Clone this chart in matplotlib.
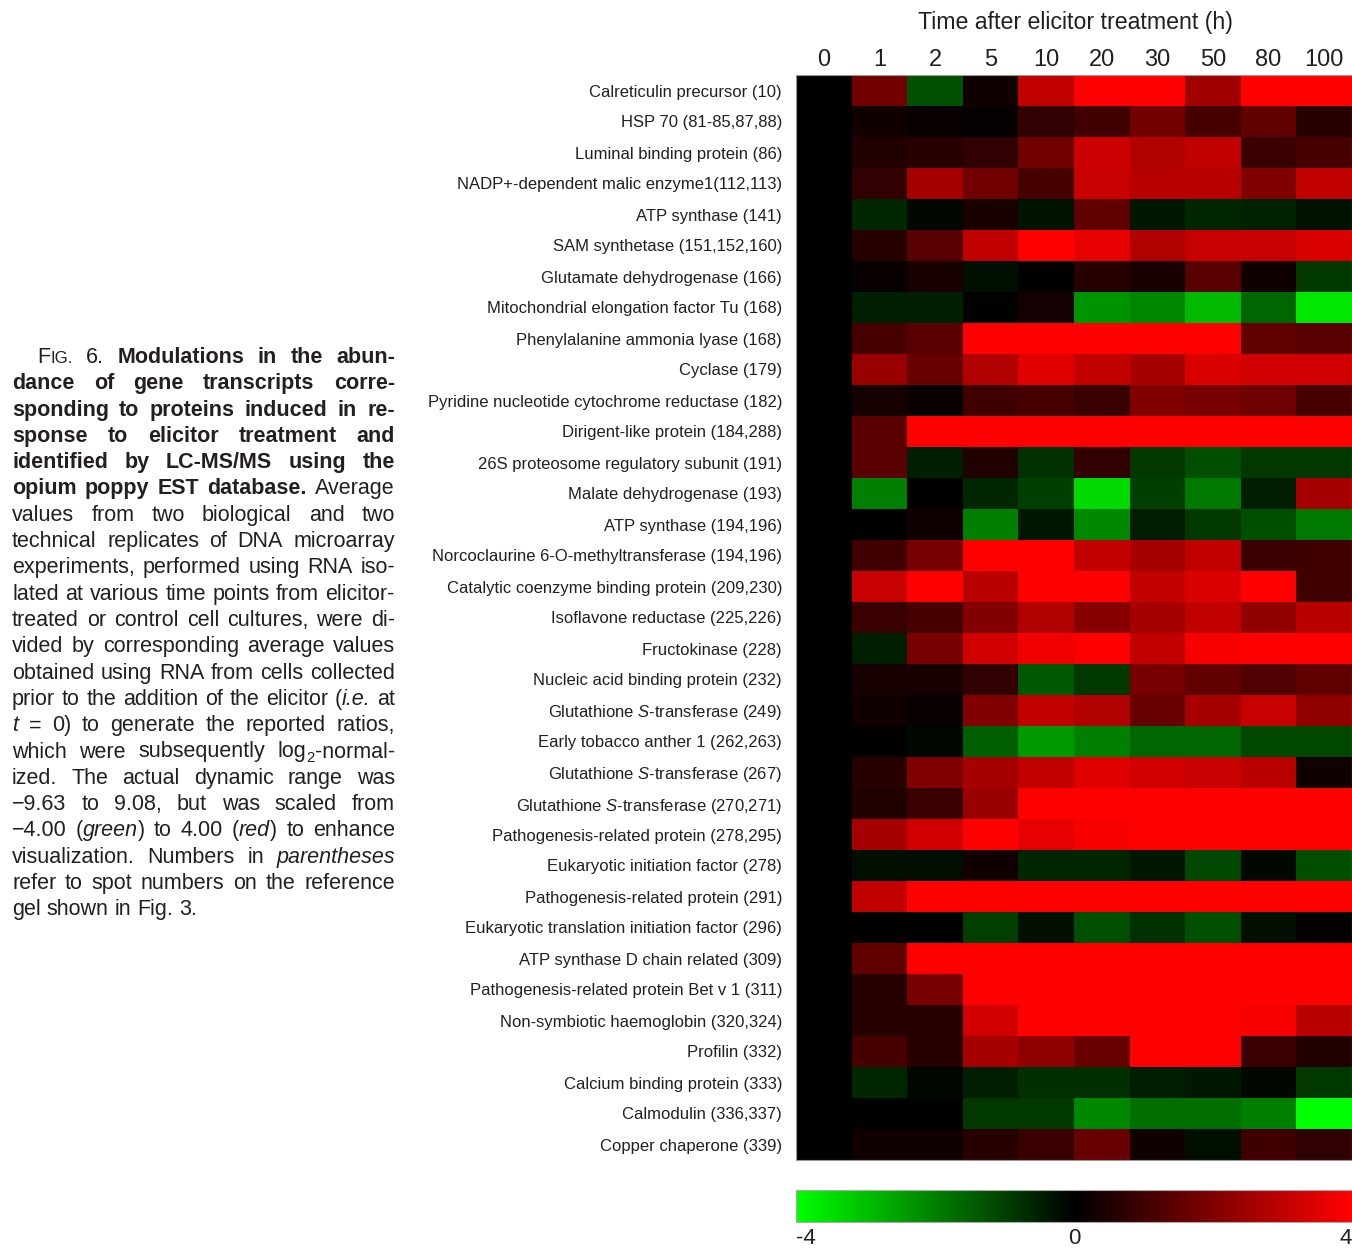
import numpy as np
import matplotlib
matplotlib.use("Agg")
import matplotlib.pyplot as plt
from matplotlib.colors import LinearSegmentedColormap

plt.rcParams['font.family'] = ['Liberation Sans', 'DejaVu Sans']
plt.rcParams['mathtext.fontset'] = 'custom'
plt.rcParams['mathtext.rm'] = 'Liberation Sans'
plt.rcParams['mathtext.it'] = 'Liberation Sans:italic'

# ---- data (log2 ratios, clipped to [-4, 4]) ----
time_points = ['0', '1', '2', '5', '10', '20', '30', '50', '80', '100']

genes = [
    'Calreticulin precursor (10)',
    'HSP 70 (81-85,87,88)',
    'Luminal binding protein (86)',
    'NADP+-dependent malic enzyme1(112,113)',
    'ATP synthase (141)',
    'SAM synthetase (151,152,160)',
    'Glutamate dehydrogenase (166)',
    'Mitochondrial elongation factor Tu (168)',
    'Phenylalanine ammonia lyase (168)',
    'Cyclase (179)',
    'Pyridine nucleotide cytochrome reductase (182)',
    'Dirigent-like protein (184,288)',
    '26S proteosome regulatory subunit (191)',
    'Malate dehydrogenase (193)',
    'ATP synthase (194,196)',
    'Norcoclaurine 6-O-methyltransferase (194,196)',
    'Catalytic coenzyme binding protein (209,230)',
    'Isoflavone reductase (225,226)',
    'Fructokinase (228)',
    'Nucleic acid binding protein (232)',
    r'Glutathione $\mathit{S}$-transferase (249)',
    'Early tobacco anther 1 (262,263)',
    r'Glutathione $\mathit{S}$-transferase (267)',
    r'Glutathione $\mathit{S}$-transferase (270,271)',
    'Pathogenesis-related protein (278,295)',
    'Eukaryotic initiation factor (278)',
    'Pathogenesis-related protein (291)',
    'Eukaryotic translation initiation factor (296)',
    'ATP synthase D chain related (309)',
    'Pathogenesis-related protein Bet v 1 (311)',
    'Non-symbiotic haemoglobin (320,324)',
    'Profilin (332)',
    'Calcium binding protein (333)',
    'Calmodulin (336,337)',
    'Copper chaperone (339)',
]

fc_0h = [0] * 35
fc_1h = [1.8, 0.25, 0.5, 0.75, -0.6, 0.6, 0.15, -0.5, 1.1, 2.4, 0.35, 1.4, 1.4, -2.0, 0, 1.0, 3.1, 0.9,
         -0.5, 0.35, 0.25, 0.05, 0.6, 0.5, 2.6, -0.25, 3.0, 0.05, 1.5, 0.6, 0.6, 1.1, -0.6, -0.05, 0.25]
fc_2h = [-1.3, 0.15, 0.6, 2.6, -0.15, 1.4, 0.35, -0.5, 1.4, 1.6, 0.15, 4, -0.5, 0.05, 0.25, 1.9, 4, 1.1,
         1.9, 0.35, 0.15, -0.15, 2.0, 0.9, 3.25, -0.2, 4, 0, 4, 1.9, 0.6, 0.6, -0.1, -0.05, 0.25]
fc_5h = [0.25, 0.1, 0.75, 1.75, 0.4, 3.0, -0.25, -0.05, 4, 2.75, 1.0, 4, 0.5, -0.6, -2.0, 4, 2.9, 2.0,
         3.25, 0.75, 2.0, -1.5, 2.6, 2.4, 4, 0.25, 4, -1.0, 4, 4, 3.25, 2.6, -0.5, -0.9, 0.6]
fc_10h = [3.0, 0.75, 1.75, 1.1, -0.3, 4, 0.05, 0.3, 4, 3.5, 1.1, 4, -0.75, -1.0, -0.4, 4, 4, 2.75,
          3.75, -1.4, 3.0, -2.4, 3.0, 4, 3.6, -0.6, 4, -0.25, 4, 4, 4, 2.25, -0.75, -0.9, 0.9]
fc_20h = [4, 1.0, 3.2, 3.1, 1.5, 3.6, 0.6, -2.3, 4, 3.0, 0.9, 4, 0.75, -3.4, -2.1, 3.0, 4, 2.1,
          4, -0.9, 2.75, -2.0, 3.5, 4, 3.9, -0.6, 4, -1.25, 4, 4, 4, 1.6, -0.75, -2.1, 1.6]
fc_30h = [4, 1.75, 2.75, 2.9, -0.4, 2.75, 0.4, -2.1, 4, 2.6, 2.0, 4, -0.9, -1.0, -0.45, 2.6, 3.0, 2.6,
          3.0, 1.9, 1.6, -1.6, 3.25, 4, 4, -0.4, 4, -0.75, 4, 4, 4, 4, -0.5, -1.75, 0.25]
fc_50h = [2.5, 1.1, 3.0, 2.9, -0.6, 3.1, 1.4, -2.9, 4, 3.4, 1.9, 4, -1.25, -1.9, -0.9, 3.0, 3.4, 3.0,
          3.9, 1.5, 2.6, -1.6, 3.1, 4, 4, -1.1, 4, -1.25, 4, 4, 4, 4, -0.4, -1.75, -0.25]
fc_80h = [4, 1.5, 0.9, 2.0, -0.55, 3.1, 0.25, -1.6, 1.5, 3.25, 1.7, 4, -0.9, -0.5, -1.25, 0.9, 4, 2.25,
          4, 1.25, 3.1, -1.1, 2.9, 4, 4, -0.15, 4, -0.25, 4, 4, 3.9, 0.9, -0.15, -2.0, 1.0]
fc_100h = [4, 0.6, 1.1, 3.0, -0.3, 3.4, -0.9, -3.6, 1.4, 3.25, 1.1, 4, -0.9, 2.6, -1.9, 1.0, 1.0, 2.9,
           4, 1.5, 2.25, -1.1, 0.25, 4, 4, -1.25, 4, 0.1, 4, 4, 2.9, 0.5, -0.9, -4, 0.75]

data = np.array([fc_0h, fc_1h, fc_2h, fc_5h, fc_10h, fc_20h, fc_30h, fc_50h, fc_80h, fc_100h]).T

# caption: each line = (default style, words); a word is a str or a list of (text, style)
caption_lines = [
    ('b', [[('F', 'n'), ('IG.', 'sc')], [('6.', 'n')], 'Modulations', 'in', 'the', 'abun-']),
    ('b', 'dance of gene transcripts corre-'.split()),
    ('b', 'sponding to proteins induced in re-'.split()),
    ('b', 'sponse to elicitor treatment and'.split()),
    ('b', 'identified by LC-MS/MS using the'.split()),
    ('b', 'opium poppy EST database.'.split() + [[('Average', 'n')]]),
    ('n', 'values from two biological and two'.split()),
    ('n', 'technical replicates of DNA microarray'.split()),
    ('n', 'experiments, performed using RNA iso-'.split()),
    ('n', 'lated at various time points from elicitor-'.split()),
    ('n', 'treated or control cell cultures, were di-'.split()),
    ('n', 'vided by corresponding average values'.split()),
    ('n', 'obtained using RNA from cells collected'.split()),
    ('n', 'prior to the addition of the elicitor'.split() + [[('(', 'n'), ('i.e.', 'i')], 'at']),
    ('n', [[('t', 'i')]] + '= 0) to generate the reported ratios,'.split()),
    ('n', 'which were subsequently'.split() + [[('log', 'n'), ('2', 'sub'), ('-normal-', 'n')]]),
    ('n', 'ized. The actual dynamic range was'.split()),
    ('n', '\u22129.63 to 9.08, but was scaled from'.split()),
    ('n', ['\u22124.00', [('(', 'n'), ('green', 'i'), (')', 'n')], 'to', '4.00',
           [('(', 'n'), ('red', 'i'), (')', 'n')], 'to', 'enhance']),
    ('n', ['visualization.', 'Numbers', 'in', [('parentheses', 'i')]]),
    ('n', 'refer to spot numbers on the reference'.split()),
    ('n', 'gel shown in Fig. 3.'.split()),
]

# ---- figure ----
W, H = 1352, 1253
fig = plt.figure(figsize=(W / 100, H / 100), dpi=100)
txt_color = '#231f20'

cmap = LinearSegmentedColormap.from_list('gbr', ['#00ff00', '#000000', '#ff0000'])

hm_left, hm_right, hm_top, hm_bottom = 796, 1352, 75, 1160
ax = fig.add_axes([hm_left / W, 1 - hm_bottom / H, (hm_right - hm_left) / W, (hm_bottom - hm_top) / H])
im = ax.imshow(data, cmap=cmap, vmin=-4, vmax=4, aspect='auto', interpolation='nearest')
ax.xaxis.tick_top()
ax.set_xticks(range(len(time_points)), time_points)
ax.set_yticks(range(len(genes)), genes)
ax.tick_params(axis='x', length=0, pad=3, labelsize=17, labelcolor=txt_color)
ax.tick_params(axis='y', length=0, pad=10, labelsize=12, labelcolor=txt_color)
for s in ax.spines.values():
    s.set_color('#999999')
    s.set_linewidth(0.8)

fig.text(1075 / W, 1 - 22 / H, 'Time after elicitor treatment (h)', ha='center', va='center',
         fontsize=16.7, color=txt_color)

# colour scale
cax = fig.add_axes([796 / W, 1 - 1222 / H, 556 / W, 32 / H])
cb = fig.colorbar(im, cax=cax, orientation='horizontal', ticks=[-4, 0, 4])
cb.ax.set_xticklabels(['-4', '0', '4'])
cb.ax.tick_params(length=0, pad=4, labelsize=16, labelcolor=txt_color)
cb.outline.set_edgecolor('#aaaaaa')
cb.outline.set_linewidth(0.8)
tl = cb.ax.get_xticklabels()
tl[0].set_ha('left')
tl[-1].set_ha('right')

# ---- justified caption ----
cap_fs = 15.5
cap_left, cap_right = 12, 395
first_indent = 37
base0, line_gap = 363, 26.3


def seg_style(style):
    kw = dict(fontsize=cap_fs, color=txt_color, va='baseline', ha='left')
    if style == 'b':
        kw['fontweight'] = 'bold'
    elif style == 'i':
        kw['fontstyle'] = 'italic'
    elif style == 'sc':
        kw['fontsize'] = cap_fs * 0.78
    elif style == 'sub':
        kw['fontsize'] = cap_fs * 0.7
    return kw


renderer = fig.canvas.get_renderer()
probe1 = fig.text(0, 0, 'a a', fontsize=cap_fs)
probe2 = fig.text(0, 0, 'aa', fontsize=cap_fs)
space = probe1.get_window_extent(renderer).width - probe2.get_window_extent(renderer).width
probe1.remove()
probe2.remove()

for li, (default, words) in enumerate(caption_lines):
    base = base0 + li * line_gap
    x0 = first_indent if li == 0 else cap_left
    placed = []
    total = 0.0
    for w in words:
        segs = [(w, default)] if isinstance(w, str) else w
        items = []
        for text, st in segs:
            t = fig.text(0, 0, text, **seg_style(st))
            wd = t.get_window_extent(renderer).width
            items.append((t, wd, st))
            total += wd
        placed.append(items)
    last = li == len(caption_lines) - 1
    if last or len(placed) < 2:
        gap = space
    else:
        gap = (cap_right - x0 - total) / (len(placed) - 1)
    x = x0
    for items in placed:
        for t, wd, st in items:
            y = base + (4 if st == 'sub' else 0)
            t.set_position((x / W, 1 - y / H))
            x += wd
        x += gap

fig.savefig('out.png', dpi=100)
